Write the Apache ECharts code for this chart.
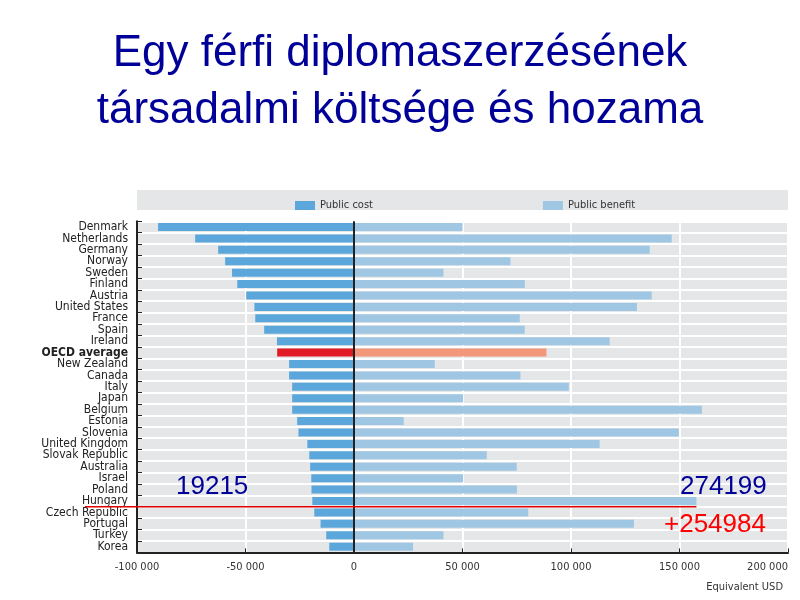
<!DOCTYPE html>
<html>
<head>
<meta charset="utf-8">
<script src="https://cdn.jsdelivr.net/npm/echarts@6/dist/echarts.min.js"></script>
<style>html,body{margin:0;padding:0;background:#fff}#c{width:800px;height:600px}</style>
</head>
<body>
<div id="c"></div>
<script>
const categories = ["Denmark","Netherlands","Germany","Norway","Sweden","Finland","Austria","United States","France","Spain","Ireland","OECD average","New Zealand","Canada","Italy","Japan","Belgium","Estonia","Slovenia","United Kingdom","Slovak Republic","Australia","Israel","Poland","Hungary","Czech Republic","Portugal","Turkey","Korea"];
const publicCost = [-90300,-73200,-62600,-59400,-56200,-53800,-49700,-45900,-45500,-41400,-35500,-35400,-29900,-29900,-28500,-28500,-28500,-26200,-25600,-21500,-20600,-20200,-19700,-19600,-19215,-18300,-15400,-12800,-11400];
const publicBenefit = [50000,146400,136300,72100,41200,78700,137200,130400,76400,78700,117800,88700,37200,76700,99000,50300,160300,22900,149700,113200,61200,75000,50300,75100,157800,80300,129000,41200,27200];
const xTicks = [-100000,-50000,0,50000,100000,150000,200000];
const titleLines = ["Egy férfi diplomaszerzésének","társadalmi költsége és hozama"];
const legendNames = ["Public cost","Public benefit"];
const notes = {cost:"19215", benefit:"274199", net:"+254984"};

const narrow = "'Liberation Sans Narrow','DejaVu Sans Condensed','Liberation Sans',sans-serif";
const costColor = '#5ba7dc', benefitColor = '#9fc7e3';
const hiIdx = categories.indexOf("OECD average");
const fmt = v => { const s = Math.abs(v).toString().replace(/\B(?=(\d{3})+(?!\d))/g,' '); return (v<0?'-':'')+s; };

const chart = echarts.init(document.getElementById('c'), null, {renderer:'canvas'});
const option = {
  animation:false,
  backgroundColor:'#fff',
  title:[{
    text: titleLines.join('\n'), left:'center', top:20,
    textStyle:{fontFamily:"'Liberation Sans',Arial,sans-serif", fontSize:44, fontWeight:'normal', color:'#000099', lineHeight:57}
  },{
    text:'Equivalent USD', right:12, top:577,
    textStyle:{fontFamily:narrow, fontSize:11, fontWeight:'normal', color:'#333'}
  }],
  legend:{
    data:legendNames, left:290, top:195, itemWidth:20, itemHeight:9, itemGap:170, icon:'rect',
    textStyle:{fontFamily:narrow, fontSize:11, color:'#333'}
  },
  grid:{left:137, right:12, top:221.3, bottom:47.6, show:true, backgroundColor:'#e5e6e7', borderWidth:0, containLabel:false, outerBoundsMode:'none'},
  xAxis:{
    type:'value', min:xTicks[0], max:xTicks[xTicks.length-1], interval:xTicks[1]-xTicks[0],
    axisLine:{show:true, onZero:false, lineStyle:{color:'#222', width:2}},
    axisTick:{show:true, inside:true, length:4, lineStyle:{color:'#222'}},
    axisLabel:{formatter:v=>fmt(v), fontFamily:narrow, fontSize:11, color:'#333', margin:9, alignMaxLabel:'right'},
    splitLine:{show:true, lineStyle:{color:'#fff', width:2}}
  },
  yAxis:{
    type:'category', data:categories, inverse:true,
    axisLine:{show:true, onZero:false, lineStyle:{color:'#222', width:2}},
    axisTick:{show:true, inside:true, length:5, lineStyle:{color:'#222'}},
    axisLabel:{
      fontFamily:narrow, fontSize:12, color:'#222', margin:9, interval:0,
      formatter:v=> v==="OECD average" ? '{b|'+v+'}' : v,
      rich:{b:{fontFamily:narrow, fontSize:12, fontWeight:'bold', color:'#222'}}
    },
    splitLine:{show:true, interval:0, lineStyle:{color:'#fff', width:2}}
  },
  series:[{
    name:legendNames[0], type:'bar', stack:'t', barWidth:8,
    itemStyle:{color:costColor},
    data:publicCost.map((v,i)=> i===hiIdx ? {value:v, itemStyle:{color:'#e01b24'}} : v),
    markLine:{silent:true, symbol:'none', label:{show:false}, lineStyle:{color:'#222', width:2, type:'solid'}, data:[{xAxis:0}]}
  },{
    name:legendNames[1], type:'bar', stack:'t', barWidth:8,
    itemStyle:{color:benefitColor},
    data:publicBenefit.map((v,i)=> i===hiIdx ? {value:v, itemStyle:{color:'#f4967a'}} : v)
  }]
};
chart.setOption(option);

// decorative legend band and annotations
const hu = categories.indexOf("Hungary");
const yA = chart.convertToPixel({yAxisIndex:0}, hu);
const yB = chart.convertToPixel({yAxisIndex:0}, hu+1);
const yLine = (yA+yB)/2;
const xEnd = chart.convertToPixel({xAxisIndex:0}, publicBenefit[hu]);
const gx0 = chart.convertToPixel({xAxisIndex:0}, xTicks[0]);
const gx1 = chart.convertToPixel({xAxisIndex:0}, xTicks[xTicks.length-1]);
const annFont = "'Liberation Sans',Arial,sans-serif";
chart.setOption({graphic:[
  {type:'rect', z:-1, silent:true, shape:{x:gx0, y:190, width:gx1-gx0, height:20}, style:{fill:'#e5e6e7'}},
  {type:'line', z:100, silent:true, shape:{x1:85, y1:yLine, x2:xEnd, y2:yLine}, style:{stroke:'#e00000', lineWidth:1.3}},
  {type:'text', z:100, left:176, top:474, style:{text:notes.cost, fontFamily:annFont, fontSize:26, fill:'#000099'}},
  {type:'text', z:100, left:680, top:474, style:{text:notes.benefit, fontFamily:annFont, fontSize:26, fill:'#000099'}},
  {type:'text', z:100, left:664, top:512, style:{text:notes.net, fontFamily:annFont, fontSize:26, fill:'#ff0000'}}
]});
</script>
</body>
</html>
